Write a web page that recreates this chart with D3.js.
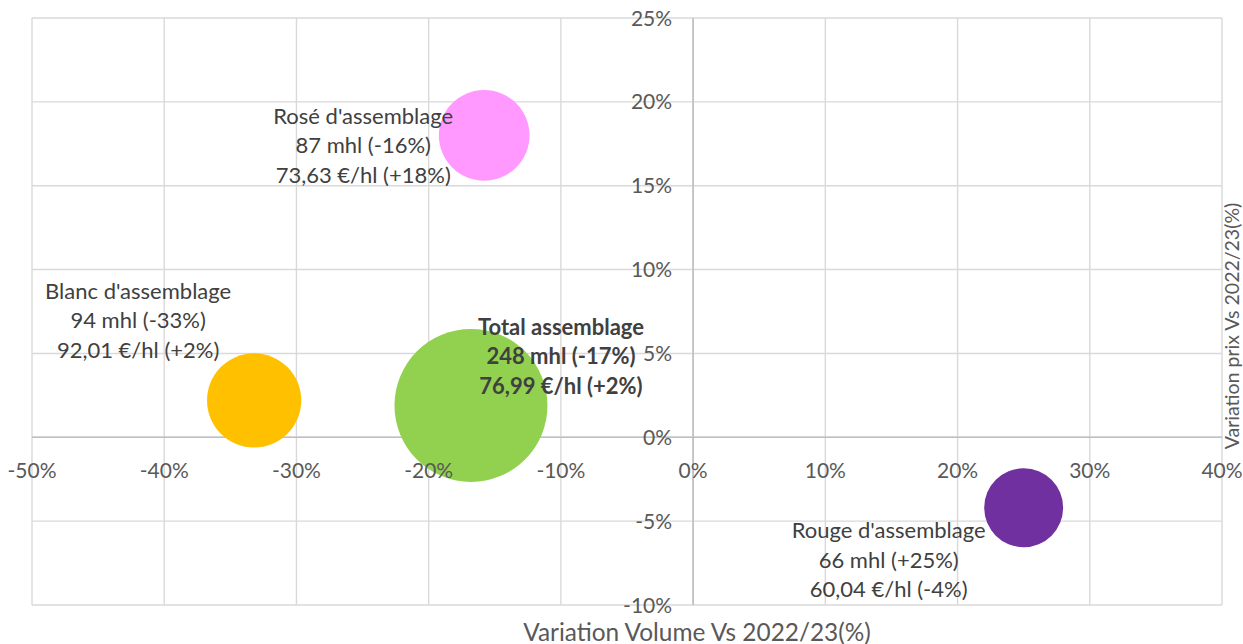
<!DOCTYPE html>
<html>
<head>
<meta charset="utf-8">
<script src="https://cdn.jsdelivr.net/npm/d3@7"></script>
<style>
  html, body { margin: 0; padding: 0; background: #ffffff; }
  svg { display: block; font-family: Lato, "Open Sans", sans-serif; }
</style>
</head>
<body>
<svg id="chart" width="1243" height="644"></svg>
<script>
// ---- data ----
const names      = ["Rosé d'assemblage", "Blanc d'assemblage", "Total assemblage", "Rouge d'assemblage"];
const volumeVar  = [-15.8, -33.2, -16.8, 25.0];   // x: variation volume (%)
const priceVar   = [18.0, 2.2, 1.9, -4.2];        // y: variation prix (%)
const volumes    = [87, 94, 248, 66];             // bubble size (mhl)
const line2      = ["87 mhl (-16%)", "94 mhl (-33%)", "248 mhl (-17%)", "66 mhl (+25%)"];
const line3      = ["73,63 €/hl (+18%)", "92,01 €/hl (+2%)", "76,99 €/hl (+2%)", "60,04 €/hl (-4%)"];
const colors     = ["#FF99FF", "#FFC000", "#92D050", "#7030A0"];
const xTicks     = [-50, -40, -30, -20, -10, 0, 10, 20, 30, 40];
const yTicks     = [-10, -5, 0, 5, 10, 15, 20, 25];
const xTitle     = "Variation Volume Vs 2022/23(%)";
const yTitle     = "Variation prix Vs 2022/23(%)";

// ---- layout ----
const plot = { left: 32, right: 1222, top: 18, bottom: 605 };
const labelOffsets = [
  { dx: -121, dy: -20, bold: false },
  { dx: -116, dy: -110, bold: false },
  { dx: 90, dy: -79, bold: true },
  { dx: -135, dy: 22, bold: false }
];
const lineGap = 29.5;

const svg = d3.select("#chart");
const x = d3.scaleLinear().domain([-50, 40]).range([plot.left, plot.right]);
const y = d3.scaleLinear().domain([-10, 25]).range([plot.bottom, plot.top]);
const r = d3.scaleSqrt().domain([0, d3.max(volumes)]).range([0, 76.5]);

const data = names.map((n, i) => ({
  name: n, xv: volumeVar[i], yv: priceVar[i], vol: volumes[i],
  l2: line2[i], l3: line3[i], color: colors[i], off: labelOffsets[i]
}));

// gridlines
const grid = svg.append("g");
grid.selectAll("line.vx").data(xTicks).join("line")
  .attr("x1", d => x(d)).attr("x2", d => x(d))
  .attr("y1", plot.top).attr("y2", plot.bottom)
  .attr("stroke", "#d9d9d9").attr("stroke-width", 1.4);
grid.selectAll("line.hy").data(yTicks).join("line")
  .attr("x1", plot.left).attr("x2", plot.right)
  .attr("y1", d => y(d)).attr("y2", d => y(d))
  .attr("stroke", "#d9d9d9").attr("stroke-width", 1.4);

// zero axes
svg.append("line").attr("x1", plot.left).attr("x2", plot.right)
  .attr("y1", y(0)).attr("y2", y(0)).attr("stroke", "#bfbfbf").attr("stroke-width", 1.6);
svg.append("line").attr("x1", x(0)).attr("x2", x(0))
  .attr("y1", plot.top).attr("y2", plot.bottom).attr("stroke", "#bfbfbf").attr("stroke-width", 1.6);

// bubbles (largest first)
const sorted = data.slice().sort((a, b) => b.vol - a.vol);
svg.append("g").selectAll("circle").data(sorted).join("circle")
  .attr("cx", d => x(d.xv)).attr("cy", d => y(d.yv))
  .attr("r", d => r(d.vol)).attr("fill", d => d.color);

// tick labels
const tickColor = "#595959";
svg.append("g").selectAll("text").data(xTicks).join("text")
  .attr("x", d => x(d)).attr("y", y(0) + 32)
  .attr("text-anchor", "middle").attr("dominant-baseline", "central")
  .attr("font-size", 21).attr("fill", tickColor)
  .text(d => d + "%");
svg.append("g").selectAll("text").data(yTicks).join("text")
  .attr("x", x(0) - 21).attr("y", d => y(d) - 1)
  .attr("text-anchor", "end").attr("dominant-baseline", "central")
  .attr("font-size", 21).attr("fill", tickColor)
  .text(d => d + "%");

// data labels
const lbl = svg.append("g").selectAll("text").data(data).join("text")
  .attr("text-anchor", "middle")
  .attr("font-size", 22)
  .attr("font-weight", d => d.off.bold ? "bold" : "normal")
  .attr("fill", "#404040");
lbl.each(function(d) {
  const t = d3.select(this);
  const cx = x(d.xv) + d.off.dx;
  const cy0 = y(d.yv) + d.off.dy;
  [d.name, d.l2, d.l3].forEach((s, k) => {
    t.append("tspan").attr("x", cx).attr("y", cy0 + k * lineGap)
      .attr("dominant-baseline", "central").text(s);
  });
});

// axis titles
svg.append("text").attr("x", 697).attr("y", 631)
  .attr("text-anchor", "middle").attr("dominant-baseline", "central")
  .attr("font-size", 24.4).attr("fill", tickColor).text(xTitle);
svg.append("text")
  .attr("transform", "translate(1231,326) rotate(-90)")
  .attr("text-anchor", "middle").attr("dominant-baseline", "central")
  .attr("font-size", 19.5).attr("fill", tickColor).text(yTitle);
</script>
</body>
</html>
